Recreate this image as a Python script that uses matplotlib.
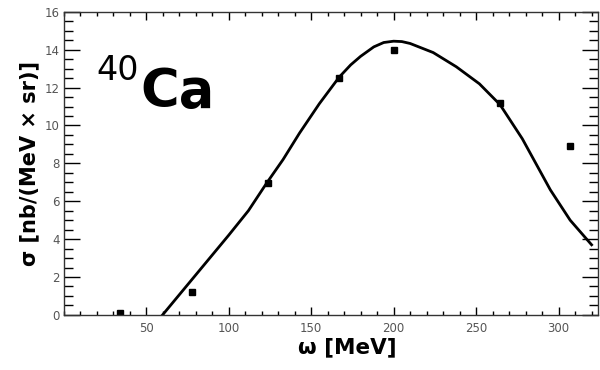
import numpy as np
import matplotlib.pyplot as plt
from matplotlib.ticker import MultipleLocator, FixedLocator

# ---------------- data ----------------
# measured points
omega_pts = [34, 78, 124, 167, 200, 264.5, 307]
sigma_pts = [0.1, 1.22, 6.95, 12.5, 14.0, 11.2, 8.9]

# model curve
omega_curve = [60, 70, 80, 90, 100, 112, 123, 133, 143, 155, 167, 174,
               180, 188, 194, 200, 205, 210, 224, 238, 252, 264.5, 278,
               295, 307, 320]
sigma_curve = [0.0, 1.05, 2.1, 3.15, 4.2, 5.5, 6.95, 8.2, 9.6, 11.15,
               12.55, 13.2, 13.65, 14.15, 14.38, 14.45, 14.43, 14.33,
               13.85, 13.1, 12.2, 11.1, 9.3, 6.6, 5.0, 3.7]

x_ticks = [50, 100, 150, 200, 250, 300]
y_ticks = [0, 2, 4, 6, 8, 10, 12, 14, 16]

plt.rcParams["font.family"] = ["DejaVu Sans"]

fig = plt.figure(figsize=(6, 3.7), dpi=100)
ax = fig.add_axes([0.106, 0.149, 0.891, 0.819])

ax.plot(omega_curve, sigma_curve, color="black", lw=2.0,
        solid_joinstyle="round")
ax.plot(omega_pts, sigma_pts, "s", color="black", ms=5)

ax.set_xlim(0, 324)
ax.set_ylim(0, 16)

ax.xaxis.set_major_locator(FixedLocator(x_ticks))
ax.xaxis.set_minor_locator(MultipleLocator(10))
ax.yaxis.set_major_locator(FixedLocator(y_ticks))
ax.yaxis.set_minor_locator(MultipleLocator(0.5))

ax.tick_params(axis="x", which="major", direction="in", length=6, width=1,
               top=True, labelsize=8.5, labelcolor="#555555", pad=5)
ax.tick_params(axis="x", which="minor", direction="in", length=3, width=1,
               top=True)
ax.tick_params(axis="y", which="major", direction="in", length=11.5, width=1,
               right=True, labelsize=8.5, labelcolor="#555555", pad=3)
ax.tick_params(axis="y", which="minor", direction="in", length=6.5, width=1,
               right=True)

for s in ax.spines.values():
    s.set_linewidth(1.0)
    s.set_color("#333333")

ax.set_xlabel("ω [MeV]", fontsize=15.5, fontweight="bold", labelpad=2)
ax.xaxis.set_label_coords(0.53, -0.075)
ax.set_ylabel("σ [nb/(MeV × sr)]", fontsize=15, fontweight="bold", labelpad=4)

ax.text(20, 12.4, "40", fontsize=24, color="black")
ax.text(46.5, 11.0, "Ca", fontsize=38, fontweight="bold", color="black")

fig.savefig("out.png", dpi=100)
